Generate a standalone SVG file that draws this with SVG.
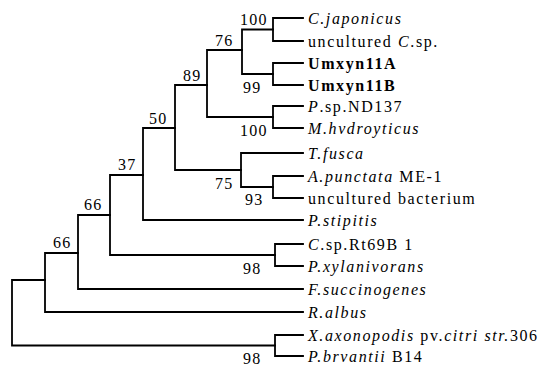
<svg xmlns="http://www.w3.org/2000/svg" width="549" height="366" viewBox="0 0 549 366">
<style>
.e{fill:none;stroke:#000;stroke-width:1.8;stroke-linecap:square;stroke-linejoin:miter}
.t{font-family:"Liberation Serif","Times New Roman",serif;font-size:16px;fill:#000;letter-spacing:1.6px}
.b{font-family:"Liberation Serif","Times New Roman",serif;font-size:16px;fill:#000;letter-spacing:1.2px}
.i{font-style:italic}
.bd{font-weight:bold}
</style>
<rect width="549" height="366" fill="#fff"/>
<g id="connectors">
<path class="e" d="M12,280V345.5M12,280H45M12,345.5H275"/>
<path class="e" d="M45,253V312M45,253H78M45,312H303"/>
<path class="e" d="M78,215V289M78,215H110M78,289H303"/>
<path class="e" d="M110,175V255M110,175H143M110,255H275"/>
<path class="e" d="M143,128V220M143,128H175M143,220H303"/>
<path class="e" d="M175,85V170M175,85H207M175,170H241"/>
<path class="e" d="M207,50V117M207,50H242M207,117H273"/>
<path class="e" d="M242,29.5V74M242,29.5H273M242,74H273"/>
<path class="e" d="M273,18V41M273,18H303M273,41H303"/>
<path class="e" d="M273,63V85M273,63H303M273,85H303"/>
<path class="e" d="M273,106V128M273,106H303M273,128H303"/>
<path class="e" d="M241,153V187M241,153H303M241,187H273"/>
<path class="e" d="M273,176V198M273,176H303M273,198H303"/>
<path class="e" d="M275,244V266M275,244H303M275,266H303"/>
<path class="e" d="M275,335V356M275,335H303M275,356H303"/>
</g>
<g id="n100a"><text class="b" x="240" y="25">100</text></g>
<g id="n76"><text class="b" x="215" y="46">76</text></g>
<g id="n89"><text class="b" x="183" y="81">89</text></g>
<g id="n99"><text class="b" x="243" y="93">99</text></g>
<g id="n100b"><text class="b" x="240" y="136">100</text></g>
<g id="n50"><text class="b" x="149" y="124">50</text></g>
<g id="n75"><text class="b" x="215" y="189">75</text></g>
<g id="n93"><text class="b" x="245" y="205">93</text></g>
<g id="n37"><text class="b" x="118" y="170">37</text></g>
<g id="n66a"><text class="b" x="84" y="210">66</text></g>
<g id="n66b"><text class="b" x="53" y="248">66</text></g>
<g id="n98a"><text class="b" x="243" y="274">98</text></g>
<g id="n98b"><text class="b" x="243" y="364">98</text></g>
<g id="cjaponicus"><text class="t i" x="308" y="23.5">C.japonicus</text></g>
<g id="uncCsp"><text class="t" x="308" y="46.5">uncultured <tspan class="i">C</tspan>.sp.</text></g>
<g id="umxyn11a"><text class="t bd" x="308" y="68.5">Umxyn11A</text></g>
<g id="umxyn11b"><text class="t bd" x="308" y="90.5">Umxyn11B</text></g>
<g id="psp"><text class="t" x="308" y="111.5"><tspan class="i">P</tspan>.sp.ND137</text></g>
<g id="mhv"><text class="t i" x="308" y="133.5">M.hvdroyticus</text></g>
<g id="tfusca"><text class="t i" x="308" y="158.5">T.fusca</text></g>
<g id="apunctata"><text class="t" x="308" y="181.5"><tspan class="i">A.punctata</tspan> ME-1</text></g>
<g id="uncbact"><text class="t" x="308" y="203.5">uncultured bacterium</text></g>
<g id="pstipitis"><text class="t i" x="308" y="225.5">P.stipitis</text></g>
<g id="csprt"><text class="t" x="308" y="249.5"><tspan class="i">C</tspan>.sp.Rt69B 1</text></g>
<g id="pxyl"><text class="t i" x="308" y="271.5">P.xylanivorans</text></g>
<g id="fsucc"><text class="t i" x="308" y="294.5">F.succinogenes</text></g>
<g id="ralbus"><text class="t i" x="308" y="317.5">R.albus</text></g>
<g id="xaxo"><text class="t" x="308" y="340.5"><tspan class="i">X.axonopodis</tspan> pv.<tspan class="i">citri str.</tspan>306</text></g>
<g id="pbry"><text class="t" x="308" y="361.5"><tspan class="i">P.brvantii</tspan> B14</text></g>
</svg>
